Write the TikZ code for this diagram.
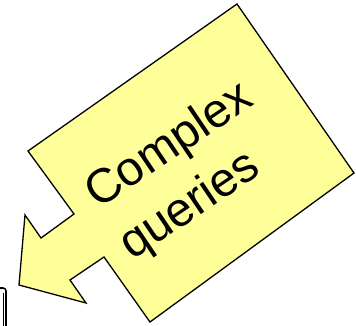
\documentclass[tikz,border=0pt]{standalone}
\usepackage{fontspec}
\setmainfont{Liberation Sans}
\definecolor{calloutfill}{RGB}{255,255,153}
\tikzset{
  callout/.style={draw=black, line width=1.3pt, fill=calloutfill, line join=miter},
  calltext/.style={font=\fontsize{48}{58}\selectfont, rotate=34, inner sep=0pt, anchor=base west},
  edgebox/.style={draw=black, line width=1.6pt, rounded corners=3pt}
}
\begin{document}
\begin{tikzpicture}[x=1pt,y=-1pt]
\useasboundingbox (0,0) rectangle (356,325);
% partial object at bottom-left
\draw[edgebox] (-20,288) -- (6,288) -- (6,340);
\draw[line width=0.6pt] (2.8,293) -- (2.8,340);
% callout arrow
\coordinate (t) at (237,4);
\coordinate (r) at (354,173);
\coordinate (b) at (150,322);
\coordinate (ls) at (104,257);
\coordinate (ln) at (70,280);
\coordinate (lb) at (86,303);
\coordinate (tip) at (19,285);
\coordinate (ub) at (25,215);
\coordinate (un) at (41,238);
\coordinate (us) at (74,214);
\coordinate (l) at (28,151);
\draw[callout] (t) -- (r) -- (b) -- (ls) -- (ln) -- (lb) -- (tip) -- (ub) -- (un) -- (us) -- (l) -- cycle;
\node[calltext] (txt1) at (98,210) {Complex};
\node[calltext] (txt2) at (132,261) {queries};
\end{tikzpicture}
\end{document}
